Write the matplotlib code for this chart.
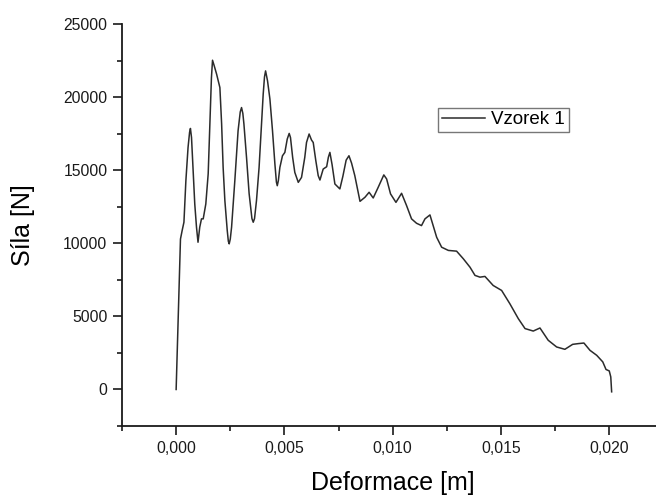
import matplotlib
matplotlib.use("Agg")
import matplotlib.pyplot as plt
from matplotlib.ticker import MultipleLocator, FuncFormatter

deformace = [0.00000, 0.00018, 0.00020, 0.00028, 0.00036, 0.00045, 0.00055, 0.00062,
             0.00066, 0.00071, 0.00079, 0.00086, 0.00094, 0.00101, 0.00109, 0.00117,
             0.00125, 0.00137, 0.00148, 0.00156, 0.00163, 0.00168, 0.00176, 0.00187,
             0.00202, 0.00210, 0.00217, 0.00225, 0.00236, 0.00241, 0.00245, 0.00250,
             0.00256, 0.00271, 0.00286, 0.00296, 0.00302, 0.00308, 0.00313, 0.00325,
             0.00337, 0.00350, 0.00356, 0.00362, 0.00371, 0.00383, 0.00394, 0.00402,
             0.00408, 0.00413, 0.00422, 0.00433, 0.00445, 0.00456, 0.00463, 0.00467,
             0.00472, 0.00479, 0.00491, 0.00502, 0.00513, 0.00522, 0.00528, 0.00538,
             0.00548, 0.00564, 0.00579, 0.00594, 0.00602, 0.00614, 0.00625, 0.00633,
             0.00645, 0.00656, 0.00664, 0.00679, 0.00695, 0.00703, 0.00710, 0.00720,
             0.00733, 0.00756, 0.00770, 0.00785, 0.00798, 0.00810, 0.00825, 0.00849,
             0.00872, 0.00891, 0.00910, 0.00933, 0.00959, 0.00972, 0.00990, 0.01015,
             0.01041, 0.01064, 0.01087, 0.01110, 0.01133, 0.01149, 0.01172, 0.01203,
             0.01226, 0.01257, 0.01295, 0.01326, 0.01357, 0.01380, 0.01403, 0.01426,
             0.01464, 0.01503, 0.01541, 0.01580, 0.01611, 0.01649, 0.01680, 0.01718,
             0.01757, 0.01795, 0.01831, 0.01857, 0.01883, 0.01911, 0.01942, 0.01970,
             0.01985, 0.02000, 0.02007, 0.02011]
sila = [0, 9500, 10300, 10900, 11450, 14300, 16570, 17600,
        17870, 17250, 14750, 12700, 11110, 10080, 11110, 11680,
        11680, 12700, 14770, 18190, 21350, 22540, 22150, 21580,
        20670, 18190, 15200, 12930, 10880, 10150, 9970, 10300,
        11110, 14300, 17710, 19000, 19300, 18900, 18170, 15890,
        13410, 11700, 11450, 11700, 12930, 15200, 18170, 20220,
        21400, 21810, 21130, 19880, 17710, 15440, 14200, 13950,
        14300, 15200, 16000, 16230, 17140, 17530, 17250, 15890,
        14860, 14180, 14520, 15890, 16910, 17490, 17080, 16910,
        15660, 14640, 14340, 15090, 15250, 15900, 16230, 15400,
        14070, 13730, 14600, 15700, 16000, 15500, 14640, 12880,
        13160, 13500, 13110, 13840, 14690, 14410, 13390, 12810,
        13430, 12590, 11680, 11380, 11220, 11680, 11950, 10420,
        9740, 9520, 9470, 8950, 8370, 7810, 7690, 7740,
        7120, 6780, 5870, 4850, 4170, 4000, 4210, 3370,
        2910, 2750, 3090, 3140, 3180, 2680, 2340, 1890,
        1370, 1270, 860, -160]

x_ticks = [0.000, 0.005, 0.010, 0.015, 0.020]
y_ticks = [0, 5000, 10000, 15000, 20000, 25000]

plt.rcParams['font.family'] = ['Liberation Sans', 'DejaVu Sans']

fig = plt.figure(figsize=(6.56, 4.97), dpi=100)
ax = fig.add_axes([122/656, 71/497, (663.4-122)/656, (426-24.3)/497])

ax.plot(deformace, sila, color='#2b2b2b', lw=1.1, label='Vzorek 1')

ax.set_xlim(-0.0025, 0.0225)
ax.set_ylim(-2500, 25000)
ax.set_xticks(x_ticks)
ax.set_yticks(y_ticks)
ax.xaxis.set_minor_locator(MultipleLocator(0.0025))
ax.yaxis.set_minor_locator(MultipleLocator(2500))
ax.xaxis.set_major_formatter(FuncFormatter(lambda v, p: f"{v:.3f}".replace('.', ',')))
ax.yaxis.set_major_formatter(FuncFormatter(lambda v, p: f"{int(round(v))}"))

for s in ['top', 'right']:
    ax.spines[s].set_visible(False)
for s in ['left', 'bottom']:
    ax.spines[s].set_linewidth(1.3)
    ax.spines[s].set_color('#1a1a1a')

ax.tick_params(which='major', direction='out', length=6.5, width=1.2, labelsize=11.3,
               colors='#1a1a1a', pad=4)
ax.tick_params(which='minor', direction='out', length=3.5, width=1.2, colors='#1a1a1a')

ax.set_xlabel('Deformace [m]', fontsize=18, labelpad=11)
ax.set_ylabel('Síla [N]', fontsize=18, labelpad=20)

leg = ax.legend(loc='upper left', bbox_to_anchor=((438-122)/(663.4-122), (426-107.5)/(426-24.3)),
                frameon=True, fancybox=False, fontsize=13.5, handlelength=2.3,
                borderpad=0.2, handletextpad=0.35, borderaxespad=0)
leg.get_frame().set_edgecolor('#555555')
leg.get_frame().set_linewidth(1.0)

fig.savefig('out.png', dpi=100)
